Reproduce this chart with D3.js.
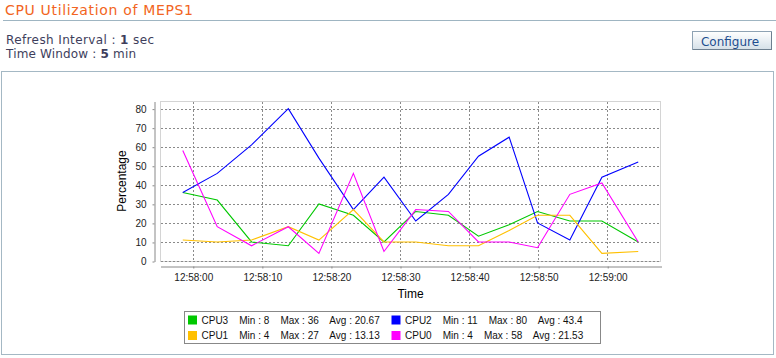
<!DOCTYPE html>
<html>
<head>
<meta charset="utf-8">
<script src="https://cdn.jsdelivr.net/npm/d3@7"></script>
<style>
  html, body { margin: 0; padding: 0; background: #fff; }
  svg { display: block; }
</style>
</head>
<body>
<svg id="page" width="776" height="358"></svg>
<script>
// ---- data ----
const times = ["12:57:58.550","12:58:03.540","12:58:08.510","12:58:13.830","12:58:18.260",
               "12:58:23.250","12:58:27.680","12:58:32.280","12:58:37.010","12:58:41.360",
               "12:58:45.800","12:58:49.910","12:58:54.590","12:58:59.230","12:59:04.490"];
const cpu3 = [36,32,10,8,30,24,10,26,24,13,19,26,21,21,10];
const cpu2 = [36,46,61,80,54,27,44,21,35,55,65,20,11,44,52];
const cpu1 = [11,10,11,18,11,27,10,10,8,8,16,24,24,4,5];
const cpu0 = [58,18,8,18,4,46,5,27,26,10,10,7,35,41,10];
const seriesNames = ["CPU3","CPU2","CPU1","CPU0"];
const seriesValues = [cpu3, cpu2, cpu1, cpu0];
const seriesColors = ["#00c800","#0000ff","#ffc000","#ff00ff"];
const yTicks = [0,10,20,30,40,50,60,70,80];
const yMax = 84;
const titleText = "CPU Utilization of MEPS1";
const refreshValue = "1", windowValue = "5";

(function () {
// ---- page ----
const svg = d3.select("#page");
const parse = d3.timeParse("%H:%M:%S.%L");
const tDates = times.map(parse);

svg.append("text").attr("x", 5).attr("y", 15)
  .attr("font-family", "DejaVu Sans, Verdana, sans-serif").attr("font-size", 14)
  .attr("fill", "#f26522").attr("textLength", 188).attr("lengthAdjust", "spacing")
  .text(titleText);
svg.append("line").attr("x1", 3).attr("x2", 776).attr("y1", 20.5).attr("y2", 20.5)
  .attr("stroke", "#9fb5c2");

const info = svg.append("g").attr("font-family", "DejaVu Sans, Verdana, sans-serif")
  .attr("font-size", 12).attr("fill", "#3e3e5c");
const t1 = info.append("text").attr("x", 6).attr("y", 44).attr("textLength", 148).attr("lengthAdjust", "spacing");
t1.append("tspan").text("Refresh Interval : ");
t1.append("tspan").attr("font-weight", "bold").text(refreshValue);
t1.append("tspan").text(" sec");
const t2 = info.append("text").attr("x", 6).attr("y", 57.5).attr("textLength", 130).attr("lengthAdjust", "spacing");
t2.append("tspan").text("Time Window : ");
t2.append("tspan").attr("font-weight", "bold").text(windowValue);
t2.append("tspan").text(" min");

// button
const grad = svg.append("defs").append("linearGradient").attr("id", "btn")
  .attr("x1", 0).attr("y1", 0).attr("x2", 0).attr("y2", 1);
grad.append("stop").attr("offset", "0%").attr("stop-color", "#ffffff");
grad.append("stop").attr("offset", "100%").attr("stop-color", "#d5e0e8");
svg.append("rect").attr("x", 692.5).attr("y", 31.5).attr("width", 79).attr("height", 18)
  .attr("fill", "url(#btn)").attr("stroke", "#8ea2b3");
svg.append("line").attr("x1", 693).attr("x2", 772).attr("y1", 49.5).attr("y2", 49.5).attr("stroke", "#6d7f8f");
svg.append("line").attr("x1", 771.5).attr("x2", 771.5).attr("y1", 32).attr("y2", 50).attr("stroke", "#6d7f8f");
svg.append("text").attr("x", 730).attr("y", 45.5).attr("text-anchor", "middle")
  .attr("font-family", "DejaVu Sans, Verdana, sans-serif").attr("font-size", 12)
  .attr("fill", "#1d4d8f").text("Configure");

// panel
svg.append("rect").attr("x", 1.5).attr("y", 71.5).attr("width", 772).attr("height", 283)
  .attr("fill", "#fff").attr("stroke", "#a4b8c4");

// ---- chart ----
const pLeft = 160, pRight = 661, pTop = 101, pBottom = 261;
const span = tDates[tDates.length - 1] - tDates[0];
const x = d3.scaleTime()
  .domain([new Date(+tDates[0] - span * 0.05), new Date(+tDates[tDates.length - 1] + span * 0.05)])
  .range([pLeft, pRight]);
const y = d3.scaleLinear().domain([0, yMax]).range([pBottom, pTop]);
const xTicks = x.ticks(d3.timeSecond.every(10));

svg.append("rect").attr("x", pLeft + 0.5).attr("y", pTop + 0.5)
  .attr("width", pRight - pLeft - 1).attr("height", pBottom - pTop)
  .attr("fill", "#fff").attr("stroke", "#d4d4d4");

const grid = svg.append("g").attr("stroke", "#8a8a8a").attr("stroke-dasharray", "2,2").attr("shape-rendering", "crispEdges");
grid.selectAll(".gy").data(yTicks).join("line")
  .attr("x1", pLeft + 1).attr("x2", pRight - 1)
  .attr("y1", d => Math.round(y(d)) + 0.5).attr("y2", d => Math.round(y(d)) + 0.5);
grid.selectAll(".gx").data(xTicks).join("line")
  .attr("y1", pTop + 1).attr("y2", pBottom)
  .attr("x1", d => Math.round(x(d)) + 0.5).attr("x2", d => Math.round(x(d)) + 0.5);

// axes
const yAxisG = svg.append("g").attr("transform", "translate(154.5,0.5)")
  .call(d3.axisLeft(y).tickValues(yTicks).tickSize(2).tickSizeOuter(0).tickPadding(6));
const xAxisG = svg.append("g").attr("transform", "translate(0.5,266.5)")
  .call(d3.axisBottom(x).tickValues(xTicks).tickFormat(d3.timeFormat("%H:%M:%S"))
    .tickSize(2).tickSizeOuter(0).tickPadding(5));
[yAxisG, xAxisG].forEach(g => {
  g.selectAll("path, line").attr("stroke", "#888");
  g.selectAll("text").attr("font-family", "Liberation Sans, Arial, sans-serif")
    .attr("font-size", 10).attr("fill", "#222");
});

svg.append("text").attr("transform", `translate(126,${(pTop + pBottom) / 2}) rotate(-90)`)
  .attr("text-anchor", "middle").attr("font-family", "Liberation Sans, Arial, sans-serif")
  .attr("font-size", 12).attr("fill", "#000").text("Percentage");
svg.append("text").attr("x", (pLeft + pRight) / 2).attr("y", 298).attr("text-anchor", "middle")
  .attr("font-family", "Liberation Sans, Arial, sans-serif")
  .attr("font-size", 12).attr("fill", "#000").text("Time");

// lines
const line = d3.line().x((d, i) => x(tDates[i])).y(d => y(d));
svg.append("g").selectAll("path").data(seriesValues).join("path")
  .attr("d", d => line(d)).attr("fill", "none")
  .attr("stroke", (d, i) => seriesColors[i]).attr("stroke-width", 1.1);

// legend
svg.append("rect").attr("x", 184.5).attr("y", 311.5).attr("width", 416).attr("height", 32)
  .attr("fill", "#fff").attr("stroke", "#888");
const fmt = v => String(Math.round(v * 100) / 100);
const leg = svg.append("g").attr("font-family", "Liberation Sans, Arial, sans-serif").attr("font-size", 10);
seriesNames.forEach((name, i) => {
  const col = i % 2, row = Math.floor(i / 2);
  const lx = col === 0 ? 188 : 391.5;
  const ly = row === 0 ? 315.5 : 331;
  const vals = seriesValues[i];
  leg.append("rect").attr("x", lx).attr("y", ly).attr("width", 9).attr("height", 9)
    .attr("fill", seriesColors[i]);
  const label = [name, "Min : " + d3.min(vals), "Max : " + d3.max(vals), "Avg : " + fmt(d3.mean(vals))].join("    ");
  leg.append("text").attr("x", lx + 13.5).attr("y", ly + 8.3)
    .style("white-space", "pre").attr("fill", "#111").text(label);
});
})();
</script>
</body>
</html>
